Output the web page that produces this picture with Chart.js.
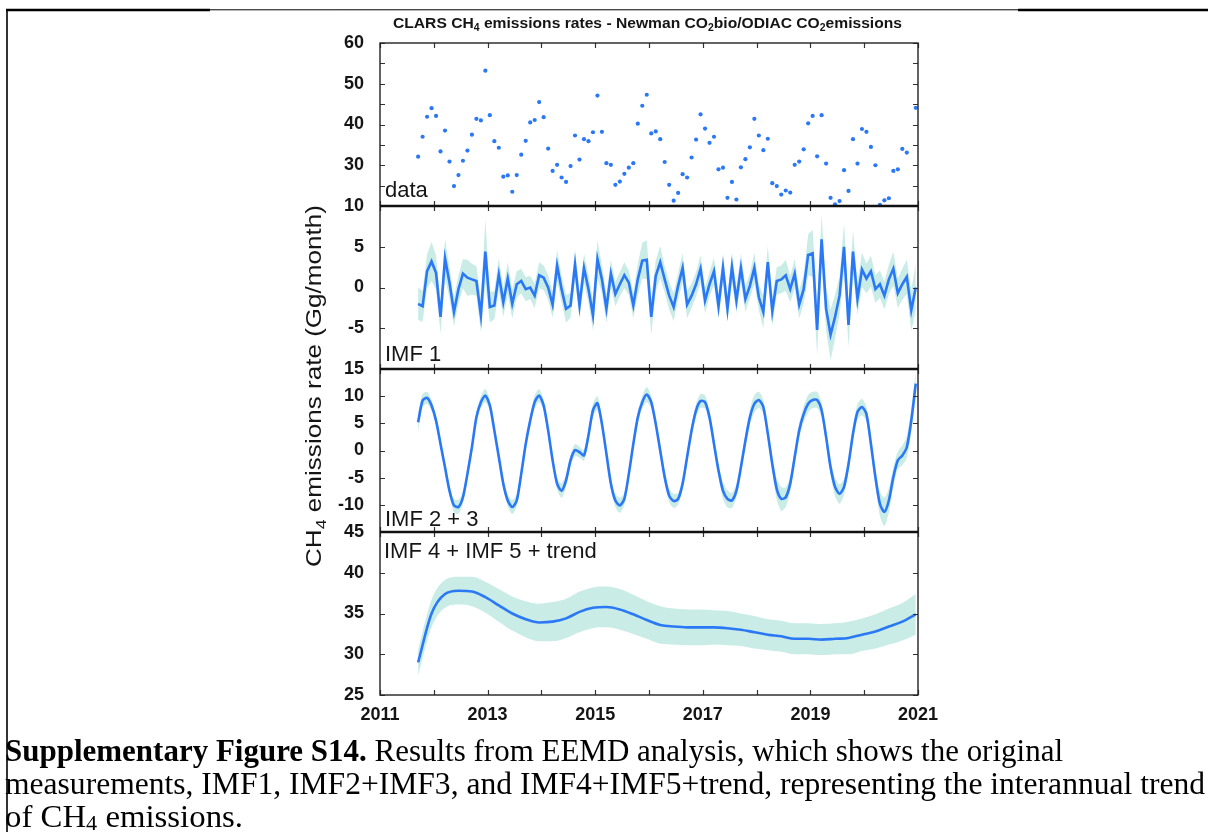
<!DOCTYPE html>
<html>
<head>
<meta charset="utf-8">
<script src="https://cdn.jsdelivr.net/npm/chart.js@4.4.1/dist/chart.umd.min.js"></script>
<style>
  html, body { margin: 0; padding: 0; background: #fff; }
  canvas { display: block; }
</style>
</head>
<body>
<canvas id="eemdChart" width="1208" height="832"></canvas>
<script>
// monthly series, first sample mid-September 2011
const startYear = 2011;
const startMonth = 9;
const trendStep = 3; // months between trend samples

const yearLabels = [2011, 2013, 2015, 2017, 2019, 2021];
const panelNames = ['data', 'IMF 1', 'IMF 2 + 3', 'IMF 4 + IMF 5 + trend'];

const dataTickLabels = [60, 50, 40, 30];
const imf1TickLabels = [10, 5, 0, -5];
const imf23TickLabels = [15, 10, 5, 0, -5, -10];
const trendTickLabels = [45, 40, 35, 30, 25];

// CLARS monthly emission rates (Gg/month)
const measured = [
  32.1, 37.0, 41.9, 44.0, 42.1, 33.4, 38.5, 30.9, 24.9, 27.6,
  31.1, 33.6, 37.5, 41.4, 41.0, 53.2, 42.3, 35.9, 34.3, 27.2,
  27.5, 23.5, 27.6, 32.6, 36.0, 40.5, 41.1, 45.5, 41.8, 34.1,
  28.6, 30.1, 27.0, 25.9, 29.8, 37.3, 31.4, 36.4, 35.9, 38.1,
  47.1, 38.2, 30.5, 30.1, 25.2, 26.0, 27.9, 29.4, 30.5, 40.2,
  44.6, 47.3, 37.8, 38.3, 36.4, 30.8, 25.2, 21.3, 23.2, 27.8,
  27.0, 31.9, 36.3, 42.5, 39.0, 35.5, 37.0, 29.0, 29.4, 22.0,
  25.9, 21.6, 29.5, 31.5, 34.4, 41.4, 37.3, 33.7, 36.5, 25.6,
  24.9, 22.8, 23.8, 23.3, 30.1, 30.9, 33.9, 40.3, 42.1, 32.2,
  42.3, 30.4, 22.0, 20.4, 21.2, 28.8, 23.7, 36.4, 30.4, 38.9,
  38.2, 34.5, 30.0, 20.3, 21.4, 21.9, 28.6, 29.0, 34.0, 33.1,
  null, 44.1
];

const imf1 = [
  -2.0, -2.3, 2.0, 3.2, 1.8, -3.6, 3.6, 0.6, -3.0, -0.2,
  1.7, 1.2, 1.0, 0.8, -3.4, 4.4, -2.4, -2.2, 1.6, -1.8,
  1.1, -2.0, 0.4, 0.8, -0.2, 0.0, -1.0, 1.5, 1.2, 0.0,
  -2.1, 2.7, -0.2, -2.6, -2.2, 2.8, -2.2, 2.4, -0.2, -3.4,
  3.5, 1.0, -2.6, 1.7, -0.8, 0.4, 1.5, 0.6, -2.2, 1.0,
  3.3, 3.4, -3.6, 1.4, 3.1, 1.0, -1.0, -2.4, 0.2, 2.4,
  -2.1, -1.0, 0.4, 2.3, -1.6, 0.4, 2.0, -2.3, 2.4, -2.6,
  2.5, -1.6, 2.4, -1.4, 0.2, 2.4, -1.2, -3.0, 3.1, -2.9,
  0.8, 1.0, 1.5, -0.2, 1.7, -2.1, -0.2, 4.0, 4.2, -5.2,
  5.9, -2.6, -5.8, -3.6, -1.0, 5.0, -4.6, 4.4, -1.4, 2.2,
  1.1, 2.0, -0.2, 0.4, -1.0, 1.0, 2.3, -0.7, 0.4, 1.3,
  -2.8, 0.0
];

// half-width of the ensemble spread around IMF 1
const imf1Spread = [
  2.0, 1.9, 2.1, 2.4, 2.1, 2.0, 2.4, 1.9, 1.8, 1.7,
  1.8, 2.2, 1.9, 1.8, 2.1, 3.9, 1.9, 1.7, 2.0, 1.8,
  2.0, 1.8, 1.6, 1.5, 1.5, 1.4, 1.5, 1.6, 1.5, 1.5,
  1.6, 1.9, 1.6, 1.7, 1.5, 1.9, 1.6, 1.8, 1.7, 1.9,
  2.3, 1.7, 1.8, 1.7, 1.5, 1.5, 1.6, 1.5, 1.6, 1.9,
  2.2, 2.4, 2.2, 1.9, 2.0, 1.6, 1.7, 1.7, 1.6, 1.8,
  1.7, 1.5, 1.5, 1.7, 1.6, 1.5, 1.7, 1.6, 1.8, 1.7,
  1.8, 1.6, 1.8, 1.6, 1.5, 1.9, 1.6, 2.0, 2.0, 1.8,
  1.7, 1.7, 1.9, 1.6, 1.8, 1.7, 1.8, 2.5, 2.9, 3.1,
  3.1, 2.7, 3.1, 2.7, 2.3, 2.9, 2.7, 2.7, 2.0, 2.1,
  1.8, 1.9, 1.7, 1.7, 1.7, 1.8, 2.1, 1.8, 1.9, 2.1,
  2.5, 2.9
];

const imf23 = [
  5.2, 9.2, 9.7, 8.3, 5.5, 1.2, -3.1, -7.4, -10.1, -10.4,
  -8.6, -4.3, 0.6, 6.1, 8.9, 10.1, 8.3, 3.7, -1.2, -6.1,
  -9.2, -10.4, -9.2, -4.3, 1.2, 5.5, 8.9, 10.1, 8.3, 3.7,
  -1.8, -6.1, -7.4, -5.5, -1.8, 0.1, -0.3, -0.9, 2.8, 7.4,
  8.7, 4.9, -0.6, -6.1, -9.2, -10.1, -8.9, -4.3, 1.2, 6.1,
  8.9, 10.3, 8.9, 4.9, 0.0, -4.9, -8.3, -9.3, -8.9, -6.1,
  -1.2, 3.7, 7.4, 9.1, 8.9, 6.1, 1.2, -3.7, -7.4, -8.9,
  -9.2, -7.4, -3.1, 1.8, 6.1, 8.6, 9.3, 8.0, 3.1, -2.5,
  -7.1, -8.9, -8.6, -6.1, -1.2, 3.7, 6.7, 8.6, 9.3, 9.3,
  7.4, 2.5, -3.1, -6.7, -8.0, -6.7, -2.5, 3.1, 7.1, 8.0,
  6.7, 1.2, -4.9, -9.8, -11.3, -9.2, -4.9, -1.8, -0.9, 0.6,
  5.5, 12.3
];

const imf23Spread = [
  1.8, 1.2, 1.1, 1.0, 0.9, 0.9, 0.9, 1.0, 1.2, 1.3,
  1.1, 0.9, 0.9, 1.0, 1.1, 1.2, 1.0, 0.9, 0.9, 1.0,
  1.1, 1.3, 1.1, 0.9, 0.9, 1.0, 1.2, 1.2, 1.0, 0.9,
  1.0, 1.1, 1.3, 1.2, 1.0, 1.1, 1.0, 1.0, 1.1, 1.2,
  1.3, 1.0, 0.9, 1.0, 1.2, 1.4, 1.1, 0.9, 0.9, 1.0,
  1.2, 1.4, 1.1, 0.9, 0.9, 1.0, 1.2, 1.3, 1.1, 0.9,
  0.9, 1.0, 1.2, 1.3, 1.2, 1.0, 1.0, 1.2, 1.5, 1.6,
  1.4, 1.2, 1.1, 1.2, 1.4, 1.6, 1.5, 1.3, 1.2, 1.5,
  1.9, 2.2, 1.8, 1.4, 1.2, 1.3, 1.5, 1.6, 1.5, 1.5,
  1.3, 1.2, 1.4, 1.7, 1.8, 1.5, 1.2, 1.2, 1.4, 1.5,
  1.3, 1.3, 1.6, 2.2, 2.6, 2.2, 1.8, 1.6, 1.8, 2.0,
  2.2, 2.4
];

// IMF 4 + IMF 5 + trend, one value every trendStep months
const trend = [
  29.0, 35.0, 37.4, 37.8, 37.7, 37.0, 36.0, 35.0, 34.3, 33.9,
  34.0, 34.4, 35.2, 35.7, 35.8, 35.5, 34.9, 34.2, 33.6, 33.4,
  33.3, 33.3, 33.3, 33.2, 33.0, 32.7, 32.4, 32.2, 31.9, 31.9,
  31.8, 31.9, 32.0, 32.4, 32.8, 33.4, 34.0, 34.9
];

const trendSpread = [
  1.6, 1.7, 1.7, 1.7, 1.8, 1.9, 2.0, 2.1, 2.2, 2.3,
  2.4, 2.4, 2.5, 2.5, 2.5, 2.5, 2.4, 2.3, 2.3, 2.2,
  2.2, 2.2, 2.1, 2.1, 2.0, 2.0, 1.9, 1.9, 1.9, 1.9,
  1.9, 1.9, 2.0, 2.0, 2.1, 2.2, 2.3, 2.5
];

const blue = '#2a78f6';
const band = '#c9ece6';
const ink = '#151515';
const sans = '"Liberation Sans", Arial, Helvetica, sans-serif';
const serif = '"Liberation Serif", "Times New Roman", serif';

function monthTime(i, step) {
  return startYear + (startMonth - 1 + i * step + 0.5) / 12;
}

function toPoints(vals, step = 1) {
  return vals.map((v, i) => ({ x: monthTime(i, step), y: v }));
}

function edgePoints(vals, spread, sign, step = 1) {
  return vals.map((v, i) => ({ x: monthTime(i, step), y: v + sign * spread[i] }));
}

function lineSet(vals, axis, step, extra) {
  return Object.assign({
    data: toPoints(vals, step), yAxisID: axis, order: 0,
    borderColor: blue, borderWidth: 2.6, pointRadius: 0, fill: false, tension: 0
  }, extra || {});
}

function bandSets(vals, spread, axis, step, extra) {
  const base = { yAxisID: axis, order: 2, borderWidth: 0, pointRadius: 0, tension: 0 };
  return [
    Object.assign({}, base, { data: edgePoints(vals, spread, 1, step), fill: '+1', backgroundColor: band }, extra || {}),
    Object.assign({}, base, { data: edgePoints(vals, spread, -1, step), fill: false }, extra || {})
  ];
}

function panelAxis(min, max, weight, labels) {
  return {
    type: 'linear', position: 'left', stack: 'panels', stackWeight: 1, weight: weight,
    min: min, max: max,
    grid: { display: false, drawTicks: false },
    border: { display: false },
    ticks: {
      stepSize: 5, autoSkip: false, padding: 16, color: ink,
      font: { family: sans, size: 18, weight: 'bold' },
      callback: v => labels.includes(v) ? String(v) : ''
    },
    afterFit: s => { s.width = 380; }
  };
}

// draws a row of text pieces (sub/superscripts) squeezed by sx
function measureRuns(ctx, runs) {
  let w = 0;
  runs.forEach(r => { ctx.font = r.font; r.w = ctx.measureText(r.text).width; w += r.w; });
  return w;
}

function drawRuns(ctx, runs, x, y, sx) {
  measureRuns(ctx, runs);
  ctx.save();
  ctx.translate(x, y);
  ctx.scale(sx, 1);
  let cx = 0;
  runs.forEach(r => {
    ctx.font = r.font;
    ctx.fillText(r.text, cx, r.dy || 0);
    cx += r.w;
  });
  ctx.restore();
}

function fitRuns(ctx, runs, x, y, width) {
  drawRuns(ctx, runs, x, y, width / measureRuns(ctx, runs));
}

const panelIds = ['yData', 'yImf1', 'yImf23', 'yTrend'];

const decor = {
  id: 'decor',
  beforeDraw(chart) {
    const ctx = chart.ctx;
    ctx.save();
    ctx.fillStyle = '#fff';
    ctx.fillRect(0, 0, chart.width, chart.height);
    ctx.restore();
  },
  afterDraw(chart) {
    const ctx = chart.ctx;
    const area = chart.chartArea;
    const xs = chart.scales.x;
    ctx.save();

    // inward tick marks on all four sides of every panel
    ctx.strokeStyle = '#333';
    ctx.lineWidth = 1.2;
    panelIds.forEach(id => {
      const s = chart.scales[id];
      s.ticks.forEach(t => {
        const y = Math.round(s.getPixelForValue(t.value)) + 0.5;
        ctx.beginPath();
        ctx.moveTo(area.left, y); ctx.lineTo(area.left + 5, y);
        ctx.moveTo(area.right, y); ctx.lineTo(area.right - 5, y);
        ctx.stroke();
      });
      xs.ticks.forEach(t => {
        const x = Math.round(xs.getPixelForValue(t.value)) + 0.5;
        ctx.beginPath();
        ctx.moveTo(x, s.top); ctx.lineTo(x, s.top + 5);
        ctx.moveTo(x, s.bottom); ctx.lineTo(x, s.bottom - 5);
        ctx.stroke();
      });
    });

    // panel frames
    ctx.strokeStyle = '#222';
    ctx.lineWidth = 1.4;
    ctx.strokeRect(area.left, area.top, area.right - area.left, area.bottom - area.top);
    ctx.strokeStyle = '#111';
    ctx.lineWidth = 2.4;
    panelIds.slice(1).forEach(id => {
      const y = chart.scales[id].top;
      ctx.beginPath();
      ctx.moveTo(area.left, y); ctx.lineTo(area.right, y);
      ctx.stroke();
    });

    // panel names
    ctx.fillStyle = ink;
    ctx.font = '22px ' + sans;
    ctx.textBaseline = 'alphabetic';
    ctx.textAlign = 'left';
    const sData = chart.scales.yData, s1 = chart.scales.yImf1;
    const s23 = chart.scales.yImf23, sT = chart.scales.yTrend;
    ctx.fillText(panelNames[0], area.left + 5, sData.bottom - 9);
    ctx.fillText(panelNames[1], area.left + 5, s1.bottom - 8);
    ctx.fillText(panelNames[2], area.left + 5, s23.bottom - 6);
    ctx.fillText(panelNames[3], area.left + 4, sT.top + 26);

    // title
    const tb = 'bold 15px ' + sans, ts = 'bold 10px ' + sans;
    const title = [
      { text: 'CLARS CH', font: tb }, { text: '4', font: ts, dy: 3 },
      { text: ' emissions rates - Newman CO', font: tb }, { text: '2', font: ts, dy: 3 },
      { text: 'bio/ODIAC CO', font: tb }, { text: '2', font: ts, dy: 3 },
      { text: 'emissions', font: tb }
    ];
    fitRuns(ctx, title, 393, 28, 509);

    // shared y axis title
    const yt = [
      { text: 'CH', font: '22px ' + sans }, { text: '4', font: '15px ' + sans, dy: 5 },
      { text: ' emissions rate (Gg/month)', font: '22px ' + sans }
    ];
    ctx.save();
    ctx.translate(321, 567);
    ctx.rotate(-Math.PI / 2);
    fitRuns(ctx, yt, 0, 0, 362);
    ctx.restore();

    // caption
    ctx.fillStyle = '#000';
    const cr = '31px ' + serif, cb = 'bold 31px ' + serif;
    const cap1 = [
      { text: 'Supplementary Figure S14.', font: cb },
      { text: ' Results from EEMD analysis, which shows the original', font: cr }
    ];
    const cap2 = [{ text: 'measurements, IMF1, IMF2+IMF3, and IMF4+IMF5+trend, representing the interannual trend', font: cr }];
    const cap3 = [
      { text: 'of CH', font: cr }, { text: '4', font: '21px ' + serif, dy: 3 },
      { text: ' emissions.', font: cr }
    ];
    fitRuns(ctx, cap1, 5, 761, 1058);
    fitRuns(ctx, cap2, 5, 794, 1200);
    fitRuns(ctx, cap3, 5, 827, 238);

    // page rules
    ctx.strokeStyle = '#000';
    ctx.lineWidth = 1.6;
    ctx.beginPath();
    ctx.moveTo(7, 9); ctx.lineTo(7, 832);
    ctx.stroke();
    ctx.lineWidth = 2.6;
    ctx.beginPath();
    ctx.moveTo(6, 10); ctx.lineTo(210, 10);
    ctx.moveTo(1018, 10); ctx.lineTo(1208, 10);
    ctx.stroke();
    ctx.lineWidth = 1;
    ctx.beginPath();
    ctx.moveTo(210, 9.8); ctx.lineTo(1018, 9.8);
    ctx.stroke();

    ctx.restore();
  }
};

new Chart(document.getElementById('eemdChart'), {
  type: 'line',
  data: {
    datasets: [
      lineSet(measured, 'yData', 1, {
        showLine: false, pointRadius: 2.1, pointBackgroundColor: blue, pointBorderWidth: 0
      }),
      lineSet(imf1, 'yImf1', 1),
      lineSet(imf23, 'yImf23', 1, { tension: 0.25 }),
      lineSet(trend, 'yTrend', trendStep, { cubicInterpolationMode: 'monotone' }),
      ...bandSets(imf1, imf1Spread, 'yImf1', 1),
      ...bandSets(imf23, imf23Spread, 'yImf23', 1, { tension: 0.25 }),
      ...bandSets(trend, trendSpread, 'yTrend', trendStep, { cubicInterpolationMode: 'monotone' })
    ]
  },
  options: {
    responsive: false,
    animation: false,
    layout: { padding: { left: 0, right: 290, top: 43, bottom: 0 } },
    plugins: {
      legend: { display: false },
      tooltip: { enabled: false },
      filler: { propagate: false }
    },
    scales: {
      x: {
        type: 'linear', min: 2011, max: 2021,
        grid: { display: false, drawTicks: false },
        border: { display: false },
        ticks: {
          stepSize: 1, autoSkip: false, maxRotation: 0, padding: 9, color: ink,
          font: { family: sans, size: 18, weight: 'bold' },
          callback: v => yearLabels.includes(Math.round(v)) ? String(Math.round(v)) : ''
        },
        afterFit: s => { s.height = 137; }
      },
      yData: panelAxis(20, 60, 4, dataTickLabels),
      yImf1: panelAxis(-10, 10, 3, imf1TickLabels),
      yImf23: panelAxis(-15, 15, 2, imf23TickLabels),
      yTrend: panelAxis(25, 45, 1, trendTickLabels)
    }
  },
  plugins: [decor]
});
</script>
</body>
</html>
